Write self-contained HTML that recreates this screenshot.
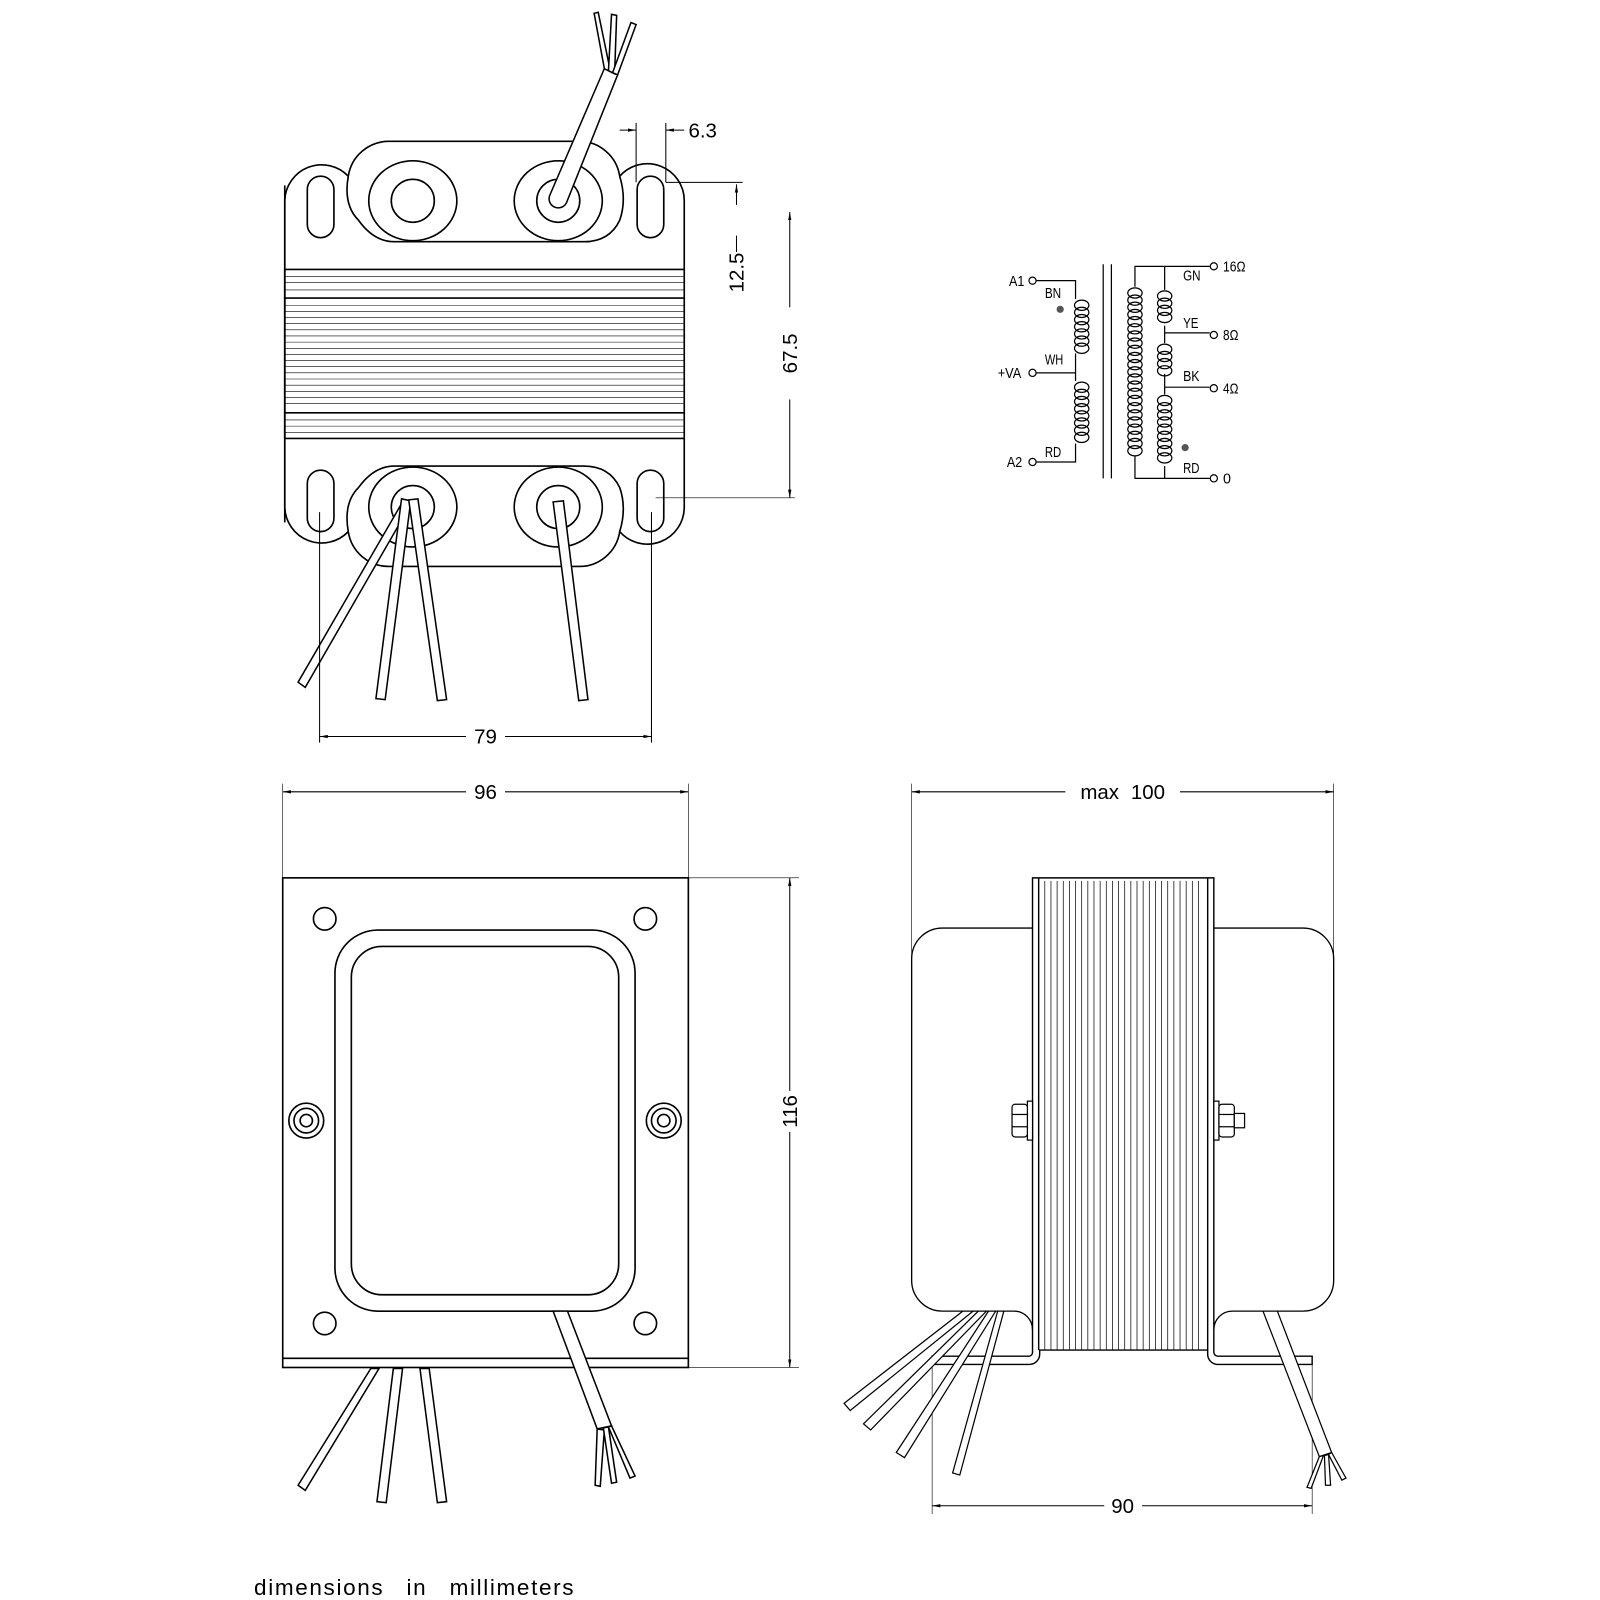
<!DOCTYPE html>
<html><head><meta charset="utf-8"><style>
html,body{margin:0;padding:0;background:#fff;width:1600px;height:1600px;overflow:hidden}
svg{display:block}
text{font-family:"Liberation Sans",sans-serif;fill:#000}
</style></head><body>
<svg width="1600" height="1600" viewBox="0 0 1562 1562" xmlns="http://www.w3.org/2000/svg">
<defs>
<marker id="ar" viewBox="0 0 10 10" refX="10" refY="5" markerWidth="8" markerHeight="8" orient="auto-start-reverse"><path d="M0,3 L10,5 L0,7z" fill="#000"/></marker>
<g id="loop"><ellipse cx="0" cy="0" rx="7" ry="5" fill="none" stroke="#000" stroke-width="1.2"/></g>
</defs>
<g fill="none" stroke="#000" stroke-width="1.6">
<g id="half">
<path d="M278,510 L278,196 A36,36 0 0 1 340,172 A40,40 0 0 1 380,138 L565,138 A40,40 0 0 1 605,172 A36,36 0 0 1 668,196 L668,263"/>
<path d="M340,172 Q335,200 350,215 Q365,236 385,236 L570,236 Q595,236 605,215 Q612,195 605,172"/>
<rect x="300" y="172" width="26" height="60" rx="13"/>
<rect x="622" y="172" width="26" height="60" rx="13"/>
<ellipse cx="403" cy="196" rx="43" ry="39"/>
<ellipse cx="545" cy="196" rx="43" ry="39"/>
</g>
<use href="#half" transform="translate(0,691) scale(1,-1)"/>
<line x1="278" y1="263" x2="278" y2="428"/>
<line x1="668" y1="263" x2="668" y2="428"/>
<circle cx="403" cy="196" r="21"/>
<circle cx="545" cy="196" r="21"/>
<circle cx="403" cy="495" r="21"/>
<circle cx="545" cy="495" r="21"/>
<line x1="278" y1="263" x2="668" y2="263"/>
<line x1="278" y1="428" x2="668" y2="428"/>
<line x1="278" y1="291" x2="668" y2="291"/>
<line x1="278" y1="403" x2="668" y2="403"/>
</g>
<g stroke="#000" stroke-width="0.6" fill="none">
<path d="M278,270H668M278,276H668M278,283H668M278,298H668M278,304H668M278,310H668M278,316H668M278,322H668M278,328H668M278,334H668M278,340H668M278,346H668M278,352H668M278,358H668M278,364H668M278,370H668M278,376H668M278,382H668M278,388H668M278,394H668M278,410H668M278,416H668M278,422H668"/>
</g>
<g stroke="#000" stroke-width="1.5" fill="#fff">
<path d="M537,190 L590,67 L603,73 L553,198 A8,8 0 0 1 537,190z"/>
<path d="M590,67 L580,13 L584,12 L596,70z"/>
<path d="M594,69 L597,14 L602,15 L600,72z"/>
<path d="M598,71 L616,22 L621,24 L603,73z"/>
<path d="M393,490 L291,666 L298,671 L400,494z"/>
<path d="M392,487 L367,682 L376,683 L401,489z"/>
<path d="M399,488 L427,684 L436,683 L408,487z"/>
<path d="M540,490 L565,684 L574,683 L550,489z"/>
</g>
<g stroke="#000" stroke-width="1" fill="none">
<line x1="621" y1="120" x2="621" y2="178"/><line x1="650" y1="120" x2="650" y2="178"/>
<line x1="605" y1="127" x2="621" y2="127" marker-end="url(#ar)"/>
<line x1="668" y1="127" x2="650" y2="127" marker-end="url(#ar)"/>
<line x1="650" y1="178" x2="725" y2="178"/>
<line x1="719" y1="200" x2="719" y2="180" marker-end="url(#ar)"/>
<line x1="719" y1="230" x2="719" y2="246"/>
<line x1="640" y1="486" x2="776" y2="486" stroke-width="0.6"/>
<line x1="771" y1="300" x2="771" y2="207" marker-end="url(#ar)"/>
<line x1="771" y1="390" x2="771" y2="486" marker-end="url(#ar)"/>
<line x1="312" y1="500" x2="312" y2="725"/><line x1="636" y1="500" x2="636" y2="725"/>
<line x1="455" y1="719" x2="312" y2="719" marker-end="url(#ar)"/>
<line x1="493" y1="719" x2="636" y2="719" marker-end="url(#ar)"/>
<line x1="276" y1="765" x2="276" y2="857" stroke-width="0.6"/><line x1="672" y1="765" x2="672" y2="857" stroke-width="0.6"/>
<line x1="455" y1="773" x2="276" y2="773" marker-end="url(#ar)"/>
<line x1="493" y1="773" x2="672" y2="773" marker-end="url(#ar)"/>
<line x1="672" y1="857" x2="780" y2="857" stroke-width="0.6"/><line x1="672" y1="1335" x2="780" y2="1335" stroke-width="0.6"/>
<line x1="771" y1="1065" x2="771" y2="857" marker-end="url(#ar)"/>
<line x1="771" y1="1105" x2="771" y2="1335" marker-end="url(#ar)"/>
<line x1="890" y1="765" x2="890" y2="945" stroke-width="0.6"/><line x1="1302" y1="765" x2="1302" y2="945" stroke-width="0.6"/>
<line x1="1040" y1="773" x2="890" y2="773" marker-end="url(#ar)"/>
<line x1="1152" y1="773" x2="1302" y2="773" marker-end="url(#ar)"/>
<line x1="910" y1="1330" x2="910" y2="1478" stroke-width="0.6"/><line x1="1281" y1="1330" x2="1281" y2="1478" stroke-width="0.6"/>
<line x1="1078" y1="1470" x2="910" y2="1470" marker-end="url(#ar)"/>
<line x1="1115" y1="1470" x2="1281" y2="1470" marker-end="url(#ar)"/>
</g>
<g font-size="20">
<text x="686" y="134" text-anchor="middle">6.3</text>
<text transform="translate(726,266) rotate(-90)" text-anchor="middle">12.5</text>
<text transform="translate(778,345) rotate(-90)" text-anchor="middle">67.5</text>
<text x="474" y="726" text-anchor="middle">79</text>
<text x="474" y="780" text-anchor="middle">96</text>
<text transform="translate(778,1085) rotate(-90)" text-anchor="middle">116</text>
<text x="1096" y="780" text-anchor="middle" word-spacing="6">max 100</text>
<text x="1096" y="1477" text-anchor="middle">90</text>
<text x="248" y="1557" font-size="22" letter-spacing="1.6" word-spacing="14">dimensions in millimeters</text>
</g>
<g fill="none" stroke="#000" stroke-width="1.6">
<rect x="276" y="857" width="396" height="478"/>
<line x1="276" y1="1326" x2="672" y2="1326"/>
<rect x="327" y="908" width="293" height="372" rx="42"/>
<rect x="343" y="924" width="261" height="340" rx="30"/>
<circle cx="317" cy="897" r="11"/><circle cx="630" cy="897" r="11"/>
<circle cx="317" cy="1292" r="11"/><circle cx="630" cy="1292" r="11"/>
<circle cx="299" cy="1094" r="17"/><circle cx="299" cy="1094" r="12"/><circle cx="299" cy="1094" r="6"/>
<circle cx="648" cy="1094" r="17"/><circle cx="648" cy="1094" r="12"/><circle cx="648" cy="1094" r="6"/>
</g>
<g stroke="#000" stroke-width="1.5" fill="#fff">
<path d="M362,1336 L291,1450 L298,1455 L370,1336z"/>
<path d="M384,1336 L368,1466 L377,1467 L393,1336z"/>
<path d="M410,1336 L427,1467 L436,1466 L419,1336z"/>
<path d="M540,1280 L583,1395 L597,1392 L554,1280z"/>
<path d="M583,1395 L581,1450 L586,1451 L590,1396z"/>
<path d="M589,1394 L597,1448 L602,1447 L594,1393z"/>
<path d="M594,1393 L615,1443 L620,1441 L597,1392z"/>
</g>
<g fill="none" stroke="#000" stroke-width="1.3">
<path d="M1008,906 L920,906 A30,30 0 0 0 890,936 L890,1250 A30,30 0 0 0 920,1280 L990,1280 A18,18 0 0 1 1008,1298"/>
<path d="M1185,906 L1272,906 A30,30 0 0 1 1302,936 L1302,1250 A30,30 0 0 1 1272,1280 L1203,1280 A18,18 0 0 0 1185,1298"/>
</g>
<g stroke="#000" stroke-width="1.4" fill="#fff">
<path d="M910,1324 L1005,1324 A4,4 0 0 0 1008,1320 L1008,857 L1185,857 L1185,1320 A4,4 0 0 0 1189,1324 L1281,1324 L1281,1332 L1188,1332 A10,10 0 0 1 1179,1322 L1179,1318 L1015,1318 L1015,1322 A10,10 0 0 1 1005,1332 L910,1332z"/>
<line x1="1014" y1="857" x2="1014" y2="1318"/>
<line x1="1179" y1="857" x2="1179" y2="1318"/>
</g>
<g stroke="#000" stroke-width="0.7">
<path d="M1020,860V1318M1026,860V1318M1032,860V1318M1038,860V1318M1044,860V1318M1050,860V1318M1056,860V1318M1062,860V1318M1068,860V1318M1074,860V1318M1080,860V1318M1086,860V1318M1092,860V1318M1098,860V1318M1104,860V1318M1110,860V1318M1116,860V1318M1122,860V1318M1128,860V1318M1134,860V1318M1140,860V1318M1146,860V1318M1152,860V1318M1158,860V1318M1164,860V1318M1170,860V1318"/>
</g>
<g stroke="#000" stroke-width="1.2" fill="#fff">
<rect x="1003" y="1075" width="5" height="38"/>
<rect x="988" y="1078" width="15" height="32" rx="3"/>
<line x1="988" y1="1088" x2="1003" y2="1088"/><line x1="988" y1="1100" x2="1003" y2="1100"/>
<rect x="1185" y="1075" width="5" height="38"/>
<rect x="1190" y="1078" width="15" height="32" rx="3"/>
<line x1="1190" y1="1088" x2="1205" y2="1088"/><line x1="1190" y1="1100" x2="1205" y2="1100"/>
<rect x="1205" y="1087" width="10" height="14"/>
<path d="M940,1280 L824,1370 L830,1377 L950,1280z"/>
<path d="M955,1280 L843,1390 L850,1396 L963,1280z"/>
<path d="M965,1280 L875,1418 L883,1423 L972,1280z"/>
<path d="M974,1280 L930,1438 L937,1440 L980,1280z"/>
<path d="M1233,1280 L1288,1422 L1300,1418 L1247,1280z"/>
<path d="M1288,1422 L1276,1452 L1280,1453 L1292,1421z"/>
<path d="M1293,1421 L1294,1450 L1299,1450 L1297,1420z"/>
<path d="M1297,1420 L1310,1445 L1314,1443 L1300,1418z"/>
</g>
<!-- ===== SCHEMATIC ===== -->
<g fill="none" stroke="#000" stroke-width="1.2">
<circle cx="1008" cy="274" r="3.5"/><circle cx="1008" cy="364" r="3.5"/><circle cx="1008" cy="451" r="3.5"/>
<path d="M1011,274 H1050 V292 M1011,364 H1050 M1011,451 H1050 V433 M1050,345 V372"/>
<line x1="1077" y1="258" x2="1077" y2="467"/><line x1="1085" y1="258" x2="1085" y2="467"/>
<circle cx="1185" cy="260" r="3.5"/><circle cx="1185" cy="327" r="3.5"/><circle cx="1185" cy="379" r="3.5"/><circle cx="1185" cy="467" r="3.5"/>
<path d="M1181,260 H1108 V280 M1137,260 V283 M1137,318 V335 M1137,325 H1181 M1137,365 V385 M1137,378 H1181 M1108,445 V467 H1181 M1137,455 V467"/>
</g>
<g>
<use href="#loop" x="1056" y="298"/><use href="#loop" x="1056" y="305"/><use href="#loop" x="1056" y="312"/><use href="#loop" x="1056" y="319"/><use href="#loop" x="1056" y="326"/><use href="#loop" x="1056" y="333"/><use href="#loop" x="1056" y="340"/>
<use href="#loop" x="1056" y="378"/><use href="#loop" x="1056" y="385"/><use href="#loop" x="1056" y="392"/><use href="#loop" x="1056" y="399"/><use href="#loop" x="1056" y="406"/><use href="#loop" x="1056" y="413"/><use href="#loop" x="1056" y="420"/><use href="#loop" x="1056" y="427"/>
<use href="#loop" x="1108" y="286"/><use href="#loop" x="1108" y="293"/><use href="#loop" x="1108" y="300"/><use href="#loop" x="1108" y="307"/><use href="#loop" x="1108" y="314"/><use href="#loop" x="1108" y="321"/><use href="#loop" x="1108" y="328"/><use href="#loop" x="1108" y="335"/><use href="#loop" x="1108" y="342"/><use href="#loop" x="1108" y="349"/><use href="#loop" x="1108" y="356"/><use href="#loop" x="1108" y="363"/><use href="#loop" x="1108" y="370"/><use href="#loop" x="1108" y="377"/><use href="#loop" x="1108" y="384"/><use href="#loop" x="1108" y="391"/><use href="#loop" x="1108" y="398"/><use href="#loop" x="1108" y="405"/><use href="#loop" x="1108" y="412"/><use href="#loop" x="1108" y="419"/><use href="#loop" x="1108" y="426"/><use href="#loop" x="1108" y="433"/><use href="#loop" x="1108" y="440"/>
<use href="#loop" x="1137" y="289"/><use href="#loop" x="1137" y="296"/><use href="#loop" x="1137" y="303"/><use href="#loop" x="1137" y="310"/>
<use href="#loop" x="1137" y="341"/><use href="#loop" x="1137" y="348"/><use href="#loop" x="1137" y="355"/><use href="#loop" x="1137" y="362"/>
<use href="#loop" x="1137" y="391"/><use href="#loop" x="1137" y="398"/><use href="#loop" x="1137" y="405"/><use href="#loop" x="1137" y="412"/><use href="#loop" x="1137" y="419"/><use href="#loop" x="1137" y="426"/><use href="#loop" x="1137" y="433"/><use href="#loop" x="1137" y="440"/><use href="#loop" x="1137" y="447"/>
</g>
<circle cx="1035" cy="302" r="3.5" fill="#555"/>
<circle cx="1157" cy="437" r="3.5" fill="#555"/>
<g font-size="14" font-family="Liberation Sans Narrow, Liberation Sans, sans-serif">
<text x="985" y="279" textLength="15" lengthAdjust="spacingAndGlyphs">A1</text>
<text x="1020" y="291" textLength="16" lengthAdjust="spacingAndGlyphs">BN</text>
<text x="1020" y="356" textLength="18" lengthAdjust="spacingAndGlyphs">WH</text>
<text x="974" y="369" textLength="23" lengthAdjust="spacingAndGlyphs">+VA</text>
<text x="1020" y="446" textLength="16" lengthAdjust="spacingAndGlyphs">RD</text>
<text x="983" y="456" textLength="15" lengthAdjust="spacingAndGlyphs">A2</text>
<text x="1155" y="274" textLength="17" lengthAdjust="spacingAndGlyphs">GN</text>
<text x="1194" y="265" textLength="22" lengthAdjust="spacingAndGlyphs">16Ω</text>
<text x="1155" y="320" textLength="15" lengthAdjust="spacingAndGlyphs">YE</text>
<text x="1194" y="332" textLength="15" lengthAdjust="spacingAndGlyphs">8Ω</text>
<text x="1155" y="372" textLength="16" lengthAdjust="spacingAndGlyphs">BK</text>
<text x="1194" y="384" textLength="15" lengthAdjust="spacingAndGlyphs">4Ω</text>
<text x="1155" y="462" textLength="16" lengthAdjust="spacingAndGlyphs">RD</text>
<text x="1194" y="472">0</text>
</g>
</svg>
</body></html>
